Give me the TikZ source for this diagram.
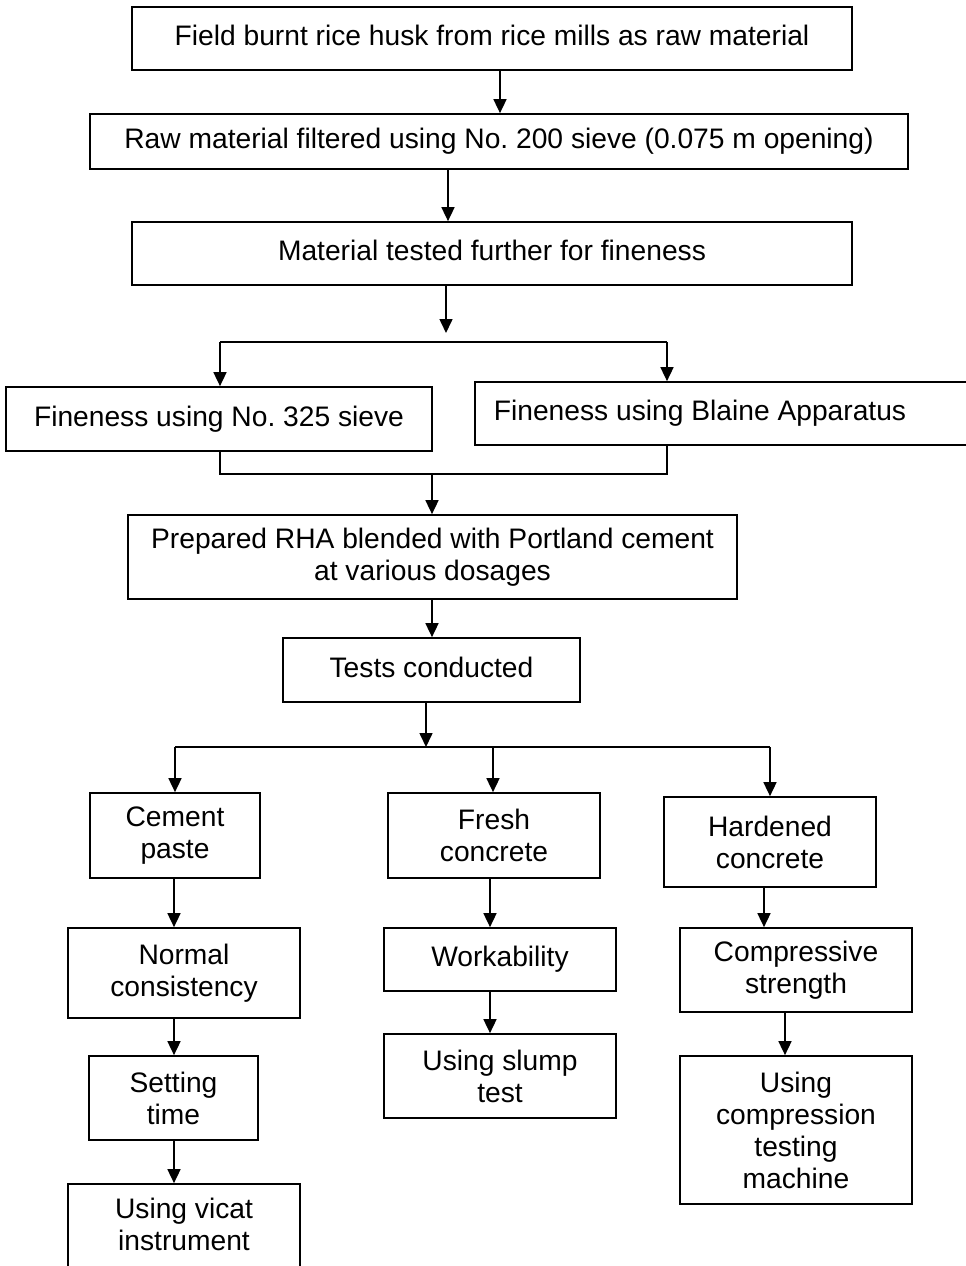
\documentclass[tikz,border=0pt]{standalone}
\usepackage{fontspec}
\setmainfont{Liberation Sans}
\usetikzlibrary{arrows.meta}
\frenchspacing
\newcommand{\fsz}{\fontsize{28.2pt}{32pt}\selectfont}
\tikzset{
  box/.style={draw, line width=1.7pt, inner sep=0pt, align=center, font=\fsz},
  txt/.style={inner sep=0pt, align=center, font=\fsz},
  conn/.style={line width=1.6pt},
  arr/.style={line width=1.6pt, -{Triangle[length=14pt,width=13pt]}}
}
\begin{document}
\begin{tikzpicture}[x=1pt,y=-1pt]
\useasboundingbox (0,0) rectangle (966,1266);
\clip (0,0) rectangle (966,1266);
% boxes
\node[box, minimum width=720, minimum height=63] (b1) at (492,38.5) {\raisebox{7pt}{Field burnt rice husk from rice mills as raw material}};
\node[box, minimum width=818, minimum height=55] (b2) at (499,141.5) {Raw material filtered using No. 200 sieve (0.075 m opening)};
\node[box, minimum width=720, minimum height=63] (b3) at (492,253.5) {\raisebox{6pt}{Material tested further for fineness}};
\node[box, minimum width=426, minimum height=64] (f1) at (219,419) {\raisebox{5pt}{Fineness using No. 325 sieve}};
\node[box, anchor=west, minimum width=526, minimum height=63] (f2) at (474,413.5) {\makebox[526pt][l]{\hspace{19pt}\raisebox{6pt}{Fineness using Blaine Apparatus}}};
\node[box, minimum width=609, minimum height=84] (b4) at (432.5,557) {Prepared RHA blended with Portland cement\\at various dosages};
\node[box, minimum width=297, minimum height=64] (b5) at (431.5,670) {\raisebox{5pt}{Tests conducted}};
\node[box, minimum width=170, minimum height=85] (c1) at (175,835.5) {Cement\\paste};
\node[box, minimum width=212, minimum height=85] (c2) at (494,835.5) {Fresh\\concrete};
\node[box, minimum width=212, minimum height=90] (c3) at (770,842) {Hardened\\concrete};
\node[box, minimum width=232, minimum height=90] (d1) at (184,973) {Normal\\consistency};
\node[box, minimum width=232, minimum height=63] (d2) at (500,959.5) {\raisebox{5pt}{Workability}};
\node[box, minimum width=232, minimum height=84] (d3) at (796,970) {Compressive\\strength};
\node[box, minimum width=169, minimum height=84] (e1) at (173.5,1098) {Setting\\time};
\node[box, minimum width=232, minimum height=84] (e2) at (500,1076) {Using slump\\test};
\node[box, minimum width=232, minimum height=148] (e3) at (796,1130) {Using\\compression\\testing\\machine};
\node[box, minimum width=232, minimum height=96] (g1) at (184,1232) {};
\node[txt] (g1t) at (184,1224.5) {Using vicat\\instrument};
% junction coordinates
\coordinate (j1) at (446,333);
\coordinate (sl) at (220,342);
\coordinate (sr) at (667,342);
\coordinate (ml) at (220,474);
\coordinate (mr) at (667,474);
\coordinate (mc) at (432,474);
\coordinate (j2) at (426,747);
\coordinate (tl) at (175,747);
\coordinate (tm) at (493,747);
\coordinate (tr) at (770,747);
% connectors
\draw[arr] (b1.south -| 500,0) -- (b2.north -| 500,0);
\draw[arr] (b2.south -| 448,0) -- (b3.north -| 448,0);
\draw[arr] (b3.south -| j1) -- (j1);
\draw[conn] (sl) -- (sr);
\draw[arr] (sl) -- (sl |- f1.north);
\draw[arr] (sr) -- (sr |- f2.north);
\draw[conn] (f1.south -| ml) -- (ml) -- (mr) -- (f2.south -| mr);
\draw[arr] (mc) -- (mc |- b4.north);
\draw[arr] (b4.south -| mc) -- (b5.north -| mc);
\draw[arr] (b5.south -| j2) -- (j2);
\draw[conn] (tl) -- (tr);
\draw[arr] (tl) -- (tl |- c1.north);
\draw[arr] (tm) -- (tm |- c2.north);
\draw[arr] (tr) -- (tr |- c3.north);
\draw[arr] (c1.south -| 174,0) -- (d1.north -| 174,0);
\draw[arr] (c2.south -| 490,0) -- (d2.north -| 490,0);
\draw[arr] (c3.south -| 764,0) -- (d3.north -| 764,0);
\draw[arr] (d1.south -| 174,0) -- (e1.north -| 174,0);
\draw[arr] (d2.south -| 490,0) -- (e2.north -| 490,0);
\draw[arr] (d3.south -| 785,0) -- (e3.north -| 785,0);
\draw[arr] (e1.south -| 174,0) -- (g1.north -| 174,0);
\end{tikzpicture}
\end{document}
